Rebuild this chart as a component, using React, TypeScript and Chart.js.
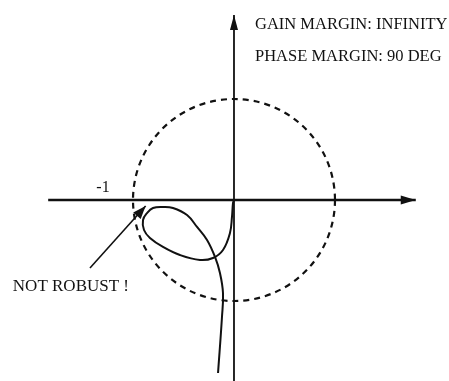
import React, { useEffect, useRef } from "react";
import { Chart, registerables } from "chart.js";

Chart.register(...registerables);

// Nyquist locus of the open loop (real / imaginary parts), from high-frequency tail up to the origin
const locusRe = [-0.158, -0.119, -0.109, -0.139, -0.188, -0.267, -0.366, -0.465, -0.604, -0.703, -0.802, -0.861, -0.901, -0.891, -0.832, -0.703, -0.535, -0.337, -0.208, -0.109, -0.04, -0.02, -0.01, 0];
const locusIm = [-1.713, -1.158, -0.921, -0.723, -0.564, -0.396, -0.267, -0.149, -0.079, -0.069, -0.079, -0.129, -0.198, -0.297, -0.376, -0.465, -0.545, -0.594, -0.574, -0.495, -0.327, -0.168, -0.03, 0];

// visible window of the complex plane
const reRange = [-2.317, 2.129];
const imRange = [-1.792, 1.98];

// axis extents
const realAxis = [-1.84, 1.80];
const imagAxis = [-1.85, 1.832];

// unit circle radius
const unitRadius = 1;

// callout arrow from the note to the critical point
const calloutRe = [-1.426, -0.875];
const calloutIm = [-0.673, -0.06];

// text labels: string, anchor re, anchor im, alignment, font size
const labelTexts = ["GAIN MARGIN: INFINITY", "PHASE MARGIN: 90 DEG", "NOT ROBUST !", "-1"];
const labelRe = [0.208, 0.208, -2.19, -1.297];
const labelIm = [1.733, 1.416, -0.861, 0.119];
const labelAlign = ["left", "left", "left", "center"];
const labelSize = [16.5, 16.5, 17, 16];

const INK = "#111";

function zip(xs: number[], ys: number[]) {
  return xs.map((x, i) => ({ x, y: ys[i] }));
}

function arrowHead(ctx: CanvasRenderingContext2D, tx: number, ty: number, fx: number, fy: number, len: number, half: number) {
  const a = Math.atan2(ty - fy, tx - fx);
  const bx = tx - Math.cos(a) * len;
  const by = ty - Math.sin(a) * len;
  const nx = -Math.sin(a) * half;
  const ny = Math.cos(a) * half;
  ctx.beginPath();
  ctx.moveTo(tx, ty);
  ctx.lineTo(bx + nx, by + ny);
  ctx.lineTo(bx - nx, by - ny);
  ctx.closePath();
  ctx.fill();
}

const decorations = {
  id: "nyquistDecorations",
  beforeDatasetsDraw(chart: any) {
    const { ctx, scales } = chart;
    const xs = scales.x;
    const ys = scales.y;
    const cx = xs.getPixelForValue(0);
    const cy = ys.getPixelForValue(0);
    const rx = Math.abs(xs.getPixelForValue(unitRadius) - cx);
    const ry = Math.abs(ys.getPixelForValue(unitRadius) - cy);
    ctx.save();
    ctx.strokeStyle = INK;
    ctx.lineWidth = 2.2;
    ctx.setLineDash([6, 5]);
    ctx.beginPath();
    ctx.ellipse(cx, cy, rx, ry, 0, 0, Math.PI * 2);
    ctx.stroke();
    ctx.restore();
  },
  afterDatasetsDraw(chart: any) {
    const { ctx, scales } = chart;
    const xs = scales.x;
    const ys = scales.y;
    const px = (v: number) => xs.getPixelForValue(v);
    const py = (v: number) => ys.getPixelForValue(v);
    ctx.save();
    ctx.fillStyle = INK;
    // axis arrowheads
    arrowHead(ctx, px(realAxis[1]), py(0), px(0), py(0), 15, 4.5);
    arrowHead(ctx, px(0), py(imagAxis[1]), px(0), py(0), 15, 4);
    // callout arrowhead
    arrowHead(ctx, px(calloutRe[1]), py(calloutIm[1]), px(calloutRe[0]), py(calloutIm[0]), 13, 5);
    // labels
    ctx.textBaseline = "middle";
    labelTexts.forEach((t, i) => {
      ctx.font = `${labelSize[i]}px "Liberation Serif", "DejaVu Serif", serif`;
      ctx.textAlign = labelAlign[i] as CanvasTextAlign;
      ctx.fillText(t, px(labelRe[i]), py(labelIm[i]));
    });
    ctx.restore();
  },
};

export default function App() {
  const ref = useRef<HTMLCanvasElement | null>(null);

  useEffect(() => {
    if (!ref.current) return;
    const chart = new Chart(ref.current, {
      type: "scatter",
      data: {
        datasets: [
          {
            data: zip(realAxis, [0, 0]),
            showLine: true,
            borderColor: INK,
            borderWidth: 2.4,
            pointRadius: 0,
          },
          {
            data: zip([0, 0], imagAxis),
            showLine: true,
            borderColor: INK,
            borderWidth: 1.8,
            pointRadius: 0,
          },
          {
            data: zip(locusRe, locusIm),
            showLine: true,
            tension: 0.4,
            borderColor: INK,
            borderWidth: 2,
            pointRadius: 0,
          },
          {
            data: zip(calloutRe, calloutIm),
            showLine: true,
            borderColor: INK,
            borderWidth: 1.6,
            pointRadius: 0,
          },
        ],
      },
      options: {
        responsive: false,
        animation: false,
        layout: { padding: 0 },
        scales: {
          x: { type: "linear", min: reRange[0], max: reRange[1], display: false },
          y: { type: "linear", min: imRange[0], max: imRange[1], display: false },
        },
        plugins: { legend: { display: false }, tooltip: { enabled: false } },
        events: [],
      },
      plugins: [decorations],
    });
    return () => chart.destroy();
  }, []);

  return (
    <div style={{ position: "fixed", left: 0, top: 0, width: 449, height: 381, background: "#fff" }}>
      <canvas ref={ref} width={449} height={381} style={{ display: "block" }} />
    </div>
  );
}
